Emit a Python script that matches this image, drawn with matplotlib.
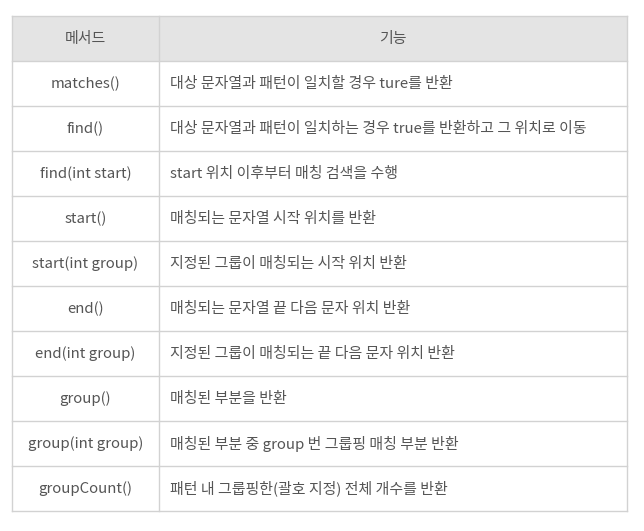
import matplotlib
matplotlib.use("Agg")
import matplotlib.pyplot as plt
from matplotlib.patches import Rectangle

headers = ["메서드", "기능"]
methods = ["matches()", "find()", "find(int start)", "start()", "start(int group)",
           "end()", "end(int group)", "group()", "group(int group)", "groupCount()"]
descriptions = [
    "대상 문자열과 패턴이 일치할 경우 ture를 반환",
    "대상 문자열과 패턴이 일치하는 경우 true를 반환하고 그 위치로 이동",
    "start 위치 이후부터 매칭 검색을 수행",
    "매칭되는 문자열 시작 위치를 반환",
    "지정된 그룹이 매칭되는 시작 위치 반환",
    "매칭되는 문자열 끝 다음 문자 위치 반환",
    "지정된 그룹이 매칭되는 끝 다음 문자 위치 반환",
    "매칭된 부분을 반환",
    "매칭된 부분 중 group 번 그룹핑 매칭 부분 반환",
    "패턴 내 그룹핑한(괄호 지정) 전체 개수를 반환",
]

plt.rcParams['font.family'] = ['Noto Sans CJK KR', 'DejaVu Sans']

W, H = 644, 531
fig = plt.figure(figsize=(W/100, H/100), dpi=100)
ax = fig.add_axes([0, 0, 1, 1])
ax.set_xlim(0, W)
ax.set_ylim(H, 0)
ax.axis('off')

left, mid, right = 12, 159, 627
top, head_h, row_h = 16, 45, 45
n = len(methods)
bottom = top + head_h + n * row_h
line_c = '#d2d2d2'
text_c = '#555555'
fs = 10.75

ax.add_patch(Rectangle((left, top), right-left, head_h, facecolor='#e4e4e4', edgecolor='none'))
ax.text((left+mid)/2, top+head_h/2, headers[0], ha='center', va='center', fontsize=fs, color=text_c)
ax.text((mid+right)/2, top+head_h/2, headers[1], ha='center', va='center', fontsize=fs, color=text_c)

for i, (m, d) in enumerate(zip(methods, descriptions)):
    y0 = top + head_h + i*row_h
    cy = y0 + row_h/2
    ax.text((left+mid)/2, cy, m, ha='center', va='center', fontsize=fs, color=text_c)
    ax.text(mid+11, cy, d, ha='left', va='center', fontsize=fs, color=text_c)

ys = [top, top+head_h] + [top+head_h+(i+1)*row_h for i in range(n)]
for y in ys:
    ax.plot([left, right], [y, y], color=line_c, lw=1)
for x in [left, mid, right]:
    ax.plot([x, x], [top, bottom], color=line_c, lw=1)

fig.savefig('out.png', dpi=100)
